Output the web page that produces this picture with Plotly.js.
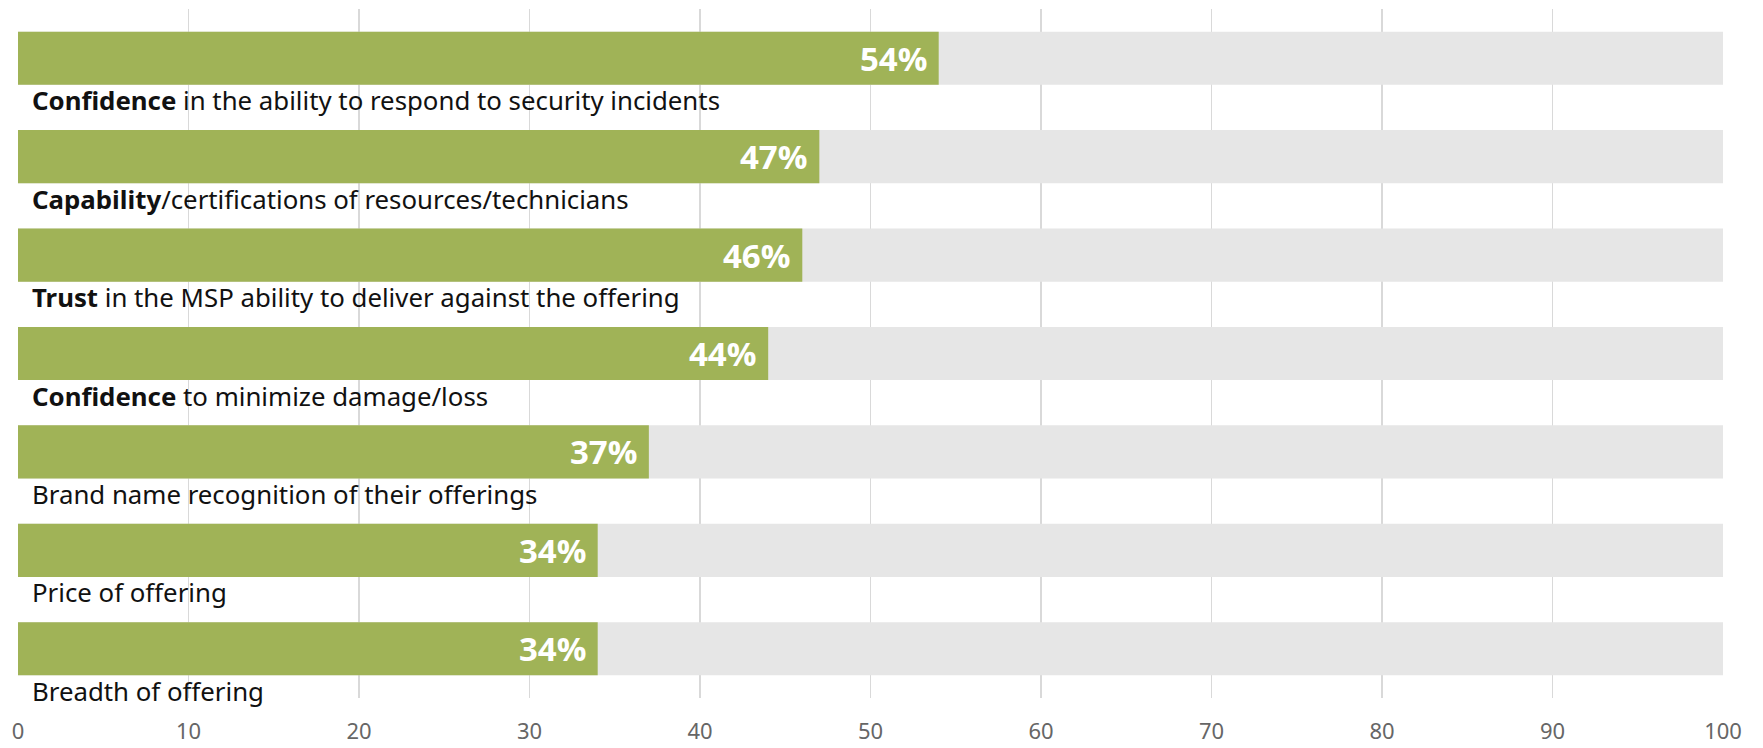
<!DOCTYPE html>
<html>
<head>
<meta charset="utf-8">
<script src="https://cdn.plot.ly/plotly-3.0.1.min.js"></script>
<style>html,body{margin:0;padding:0;background:#fff}#chart{width:1763px;height:748px}</style>
</head>
<body>
<div id="chart"></div>
<script>
// Data
var boldParts = ["Confidence", "Capability", "Trust", "Confidence", "", "", ""];
var restParts = [" in the ability to respond to security incidents",
  "/certifications of resources/technicians",
  " in the MSP ability to deliver against the offering",
  " to minimize damage/loss",
  "Brand name recognition of their offerings",
  "Price of offering",
  "Breadth of offering"];
var values = [54, 47, 46, 44, 37, 34, 34];
var fullScale = 100;
var xTicks = [0, 10, 20, 30, 40, 50, 60, 70, 80, 90, 100];

var idx = values.map(function(v, i){ return i; });
var labels = boldParts.map(function(b, i){ return (b ? "<b>" + b + "</b>" : "") + restParts[i]; });

var bgTrace = {
  type: "bar", orientation: "h",
  x: values.map(function(){ return fullScale; }), y: idx,
  width: 0.54, marker: {color: "#e6e6e6"},
  hoverinfo: "skip", showlegend: false
};
var mainTrace = {
  type: "bar", orientation: "h",
  x: values, y: idx,
  width: 0.54, marker: {color: "#a0b357"},
  showlegend: false
};

var annotations = [];
values.forEach(function(v, i){
  annotations.push({
    x: v, y: i, xref: "x", yref: "y",
    text: "<b>" + v + "%</b>", showarrow: false,
    xanchor: "right", yanchor: "middle", xshift: -10,
    font: {family: "Open Sans, sans-serif", size: 33, color: "#ffffff"}
  });
  annotations.push({
    x: 0, y: i, xref: "x", yref: "y",
    text: labels[i], showarrow: false,
    xanchor: "left", yanchor: "middle", xshift: 12, yshift: -42,
    font: {family: "Noto Sans, sans-serif", size: 25.8, color: "#111111"}
  });
});

var layout = {
  width: 1763, height: 748,
  margin: {l: 18, r: 40, t: 9, b: 50},
  paper_bgcolor: "#ffffff", plot_bgcolor: "#ffffff",
  barmode: "overlay",
  xaxis: {
    range: [0, 100], tickvals: xTicks, ticktext: xTicks.map(String),
    showgrid: true, gridcolor: "#d9d9d9", gridwidth: 1.5,
    zeroline: false, showline: false, ticks: "",
    ticklabelstandoff: 18,
    tickfont: {family: "Noto Sans, sans-serif", size: 22, color: "#666666"},
    fixedrange: true
  },
  yaxis: {
    range: [6.5, -0.5], showticklabels: false, showgrid: false,
    zeroline: false, showline: false, ticks: "", fixedrange: true
  },
  annotations: annotations,
  showlegend: false
};

Plotly.newPlot("chart", [bgTrace, mainTrace], layout, {displayModeBar: false, staticPlot: true});
</script>
</body>
</html>
